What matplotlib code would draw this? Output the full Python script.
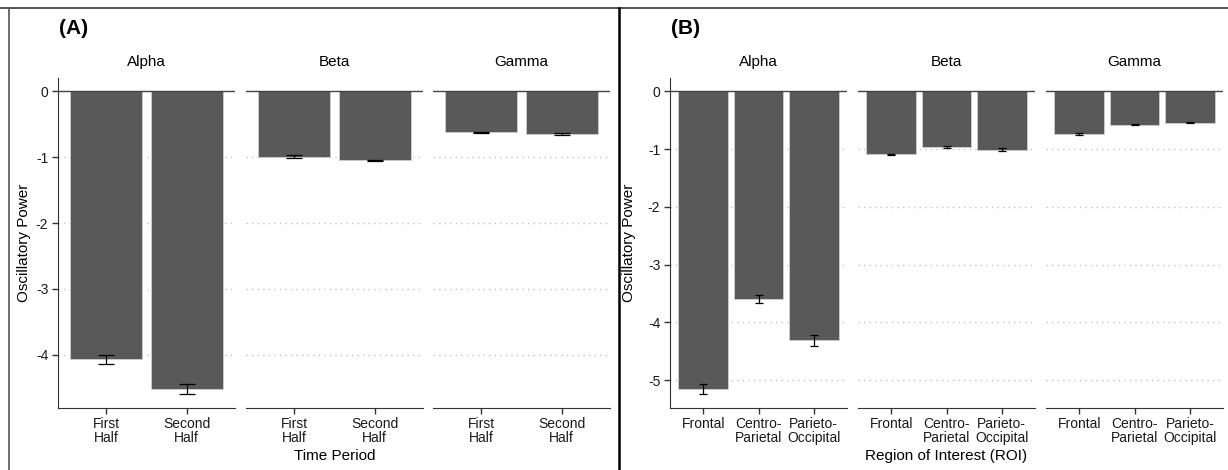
import matplotlib.pyplot as plt
from matplotlib.lines import Line2D

plt.rcParams['font.family'] = ['Liberation Sans', 'DejaVu Sans']

bands = ['Alpha', 'Beta', 'Gamma']

# Panel A: time period
periods = ['First\nHalf', 'Second\nHalf']
power_a = {'Alpha': [-4.07, -4.52], 'Beta': [-0.99, -1.05], 'Gamma': [-0.62, -0.65]}
err_a = {'Alpha': [0.065, 0.07], 'Beta': [0.02, 0.015], 'Gamma': [0.01, 0.01]}

# Panel B: region of interest
rois = ['Frontal', 'Centro-\nParietal', 'Parieto-\nOccipital']
power_b = {'Alpha': [-5.15, -3.60, -4.31], 'Beta': [-1.09, -0.97, -1.01], 'Gamma': [-0.74, -0.58, -0.545]}
err_b = {'Alpha': [0.08, 0.07, 0.10], 'Beta': [0.01, 0.02, 0.03], 'Gamma': [0.01, 0.01, 0.01]}

W, H = 1228, 470
fig = plt.figure(figsize=(W / 100, H / 100), dpi=100)

bar_col = '#595959'
axis_col = '#333333'


def px_axes(x0, x1, ytop, ybot):
    return fig.add_axes([x0 / W, 1 - ybot / H, (x1 - x0) / W, (ybot - ytop) / H])


def draw_panel(lefts, cats, power, err, ylim, yticks, capsize, ylab_x, xlabel, xlabel_x, tag, tag_x):
    n = len(cats)
    for i, band in enumerate(bands):
        x0 = lefts[i]
        ax = px_axes(x0, x0 + 177, 77.5, 407.5)
        xs = list(range(1, n + 1))
        ax.set_xlim(0.4, n + 0.6)
        ax.set_ylim(*ylim)
        for t in yticks:
            if t != 0:
                ax.axhline(t, color='#c4c4c4', lw=1, ls=(0, (1, 3)), zorder=0)
        ax.bar(xs, power[band], width=0.9, color=bar_col, edgecolor='#cfcfcf',
               linewidth=0.6, zorder=2)
        ax.errorbar(xs, power[band], yerr=err[band], fmt='none', ecolor='black',
                    elinewidth=0.9, capsize=capsize, capthick=0.9, zorder=3)
        ax.axhline(0, color='#444444', lw=1.0, zorder=4)
        for s in ['top', 'right']:
            ax.spines[s].set_visible(False)
        ax.spines['bottom'].set_color(axis_col)
        ax.spines['left'].set_color(axis_col)
        ax.set_xticks(xs)
        ax.set_xticklabels(cats, fontsize=10, color='#1a1a1a', linespacing=1.0)
        ax.tick_params(axis='x', length=4, width=1, color=axis_col, pad=3)
        if i == 0:
            ax.set_yticks(yticks)
            ax.set_yticklabels([str(t) for t in yticks], fontsize=10, color='#1a1a1a')
            ax.tick_params(axis='y', length=4, width=1, color=axis_col, pad=3)
            ax.set_ylabel('Oscillatory Power', fontsize=11)
            # label anchor is its right edge, so shift by half the text height
            ax.yaxis.set_label_coords((ylab_x + 6 - x0) / 177, 0.5)
        else:
            ax.spines['left'].set_visible(False)
            ax.set_yticks([])
        ax.set_title(band, fontsize=11, pad=8)
    fig.text(xlabel_x / W, 1 - 456 / H, xlabel, ha='center', va='center', fontsize=11)
    fig.text(tag_x / W, 1 - 29 / H, tag, ha='left', va='center', fontsize=15, fontweight='bold')


draw_panel([58, 246, 433], periods, power_a, err_a, (-4.80, 0.21),
           [0, -1, -2, -3, -4], 6.1, 25, 'Time Period', 335, '(A)', 59)
draw_panel([670, 858, 1046], rois, power_b, err_b, (-5.47, 0.237),
           [0, -1, -2, -3, -4, -5], 3.2, 630, 'Region of Interest (ROI)', 946, '(B)', 671)

# outer frame lines
fig.add_artist(Line2D([0, 1], [1 - 7.5 / H, 1 - 7.5 / H], color='#333333', lw=1.2))
fig.add_artist(Line2D([8.5 / W, 8.5 / W], [0, 1 - 7.5 / H], color='#555555', lw=1.2))
fig.add_artist(Line2D([619.5 / W, 619.5 / W], [0, 1 - 7.5 / H], color='black', lw=1.8))

fig.savefig('out.png', dpi=100)
